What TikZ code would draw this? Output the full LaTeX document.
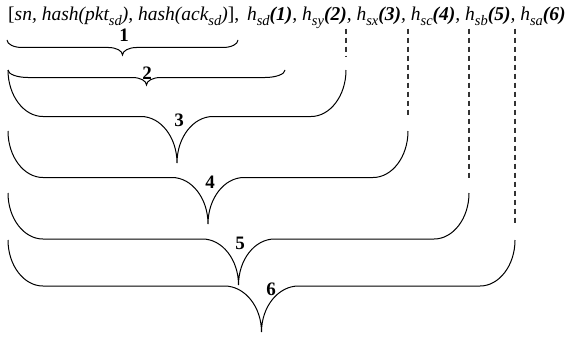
\documentclass[tikz,border=0pt]{standalone}
\usepackage{fontspec}
\setmainfont{Liberation Serif}
\usepackage{tikz}

% indice un peu plus grand que \textsubscript
\newcommand{\ind}[1]{\raisebox{-0.22em}{\fontsize{14.5}{16}\selectfont #1}}

% accolade : gauche, droite, haut, demi-hauteur, coin, pointe
\newcommand{\accol}[6]{%
  \draw[trait] (#1,#3)
    .. controls (#1,{#3+0.55*#4}) and ({#1+0.45*#5},{#3+#4}) .. ({#1+#5},{#3+#4})
    -- ({(#1+#2)/2-#6},{#3+#4})
    .. controls ({(#1+#2)/2-0.45*#6},{#3+#4}) and ({(#1+#2)/2},{#3+1.45*#4}) .. ({(#1+#2)/2},{#3+2*#4})
    .. controls ({(#1+#2)/2},{#3+1.45*#4}) and ({(#1+#2)/2+0.45*#6},{#3+#4}) .. ({(#1+#2)/2+#6},{#3+#4})
    -- ({#2-#5},{#3+#4})
    .. controls ({#2-0.45*#5},{#3+#4}) and (#2,{#3+0.55*#4}) .. (#2,#3);
}

\begin{document}
\begin{tikzpicture}[x=1pt, y=-1pt,
    trait/.style={line width=1pt, black},
    pointille/.style={line width=1.2pt, dash pattern=on 5pt off 4pt, black!80},
    texte/.style={font=\fontsize{19.5}{22}\selectfont, inner sep=0pt},
    numero/.style={font=\fontsize{19}{22}\selectfont\bfseries, inner sep=0pt}]
    \useasboundingbox (0,0) rectangle (577,337);

    % Ligne du message
    \node[texte, anchor=base west] (msg) at (8,21)
        {[\textit{sn, hash(pkt\ind{sd}), hash(ack\ind{sd})}],\hspace{3pt} \textit{h\ind{sd}\textbf{(1)}, h\ind{sy}\textbf{(2)}, h\ind{sx}\textbf{(3)}, h\ind{sc}\textbf{(4)}, h\ind{sb}\textbf{(5)}, h\ind{sa}\textbf{(6)}}};

    % Accolades
    \accol{7}{238}{40}{7.5}{15}{14}
    \accol{8}{285}{70}{7.5}{20}{14}
    \accol{8}{346}{70}{46.5}{35}{36}
    \accol{8}{408}{131}{46.5}{35}{36}
    \accol{8}{469}{193}{46}{35}{36}
    \accol{8}{515}{240}{46}{35}{37}

    % Numeros
    \node[numero] (n1) at (124,35) {1};
    \node[numero] (n2) at (147,73) {2};
    \node[numero] (n3) at (179,120) {3};
    \node[numero] (n4) at (210,182) {4};
    \node[numero] (n5) at (240,243) {5};
    \node[numero] (n6) at (271,289) {6};

    % Pointilles
    \coordinate (f3) at (346,56);
    \coordinate (f4) at (408,116);
    \coordinate (f5) at (469,178);
    \coordinate (f6) at (515,224);
    \draw[pointille] (f3 |- msg.south) -- (f3);
    \draw[pointille] (f4 |- msg.south) -- (f4);
    \draw[pointille] (f5 |- msg.south) -- (f5);
    \draw[pointille] (f6 |- msg.south) -- (f6);
\end{tikzpicture}
\end{document}
